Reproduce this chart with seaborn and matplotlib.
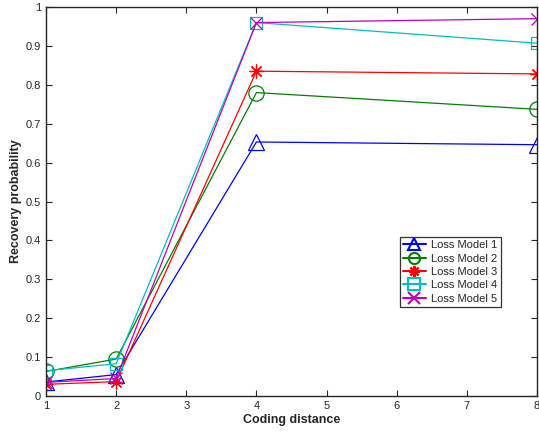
import pandas as pd
import seaborn as sns
import matplotlib.pyplot as plt
from matplotlib.lines import Line2D

# coding distances and recovery probabilities per loss model
distance = [1, 2, 4, 8]
model1 = [0.036, 0.055, 0.653, 0.646]
model2 = [0.063, 0.095, 0.780, 0.737]
model3 = [0.030, 0.037, 0.835, 0.828]
model4 = [0.065, 0.083, 0.960, 0.907]
model5 = [0.035, 0.045, 0.960, 0.970]
names = ["Loss Model 1", "Loss Model 2", "Loss Model 3", "Loss Model 4", "Loss Model 5"]

series = [model1, model2, model3, model4, model5]

colors = ["#0000ff", "#008000", "#ff0000", "#00bfbf", "#bf00bf"]
markers = ["^", "o", (8, 2, 0), "s", "x"]
sizes = [11, 11, 10, 9, 9]

sns.set_style("ticks")
plt.rcParams["font.family"] = ["Liberation Sans", "DejaVu Sans"]

fig = plt.figure(figsize=(5.39, 4.32), dpi=100)
ax = fig.add_axes([46 / 539, 36 / 432, 491 / 539, 389 / 432])

handles = []
for name, vals, c, m, s in zip(names, series, colors, markers, sizes):
    df = pd.DataFrame({"Coding distance": distance, "Recovery probability": vals})
    sns.lineplot(data=df, x="Coding distance", y="Recovery probability",
                 color=c, marker=m, markersize=s, markerfacecolor="none",
                 markeredgecolor=c, markeredgewidth=0.9, linewidth=0.9, ax=ax)
    handles.append(Line2D([], [], color=c, marker=m, mfc="none",
                          mec=c, mew=1.5, lw=1.5, markersize=8))

ax.set_xlim(1, 8)
ax.set_ylim(0, 1)
ax.set_xticks(range(1, 9))
ax.set_yticks([i / 10 for i in range(11)])
ax.set_yticklabels(["0"] + [f"{i / 10:g}" for i in range(1, 10)] + ["1"])
ax.tick_params(direction="in", top=True, right=True, labelsize=8, length=4, width=0.8)
for sp in ax.spines.values():
    sp.set_visible(True)
    sp.set_linewidth(1.0)
ax.set_xlabel("Coding distance", fontsize=9, fontweight="bold", labelpad=2)
ax.set_ylabel("Recovery probability", fontsize=9, fontweight="bold", labelpad=0)
ax.yaxis.set_label_coords(-24 / 491, 0.5)

leg = ax.legend(handles=handles, labels=names, loc="upper left",
                bbox_to_anchor=((400 - 46) / 491, (396 - 237) / 389),
                fontsize=8, frameon=True, fancybox=False, edgecolor="black",
                handlelength=2.0, handletextpad=0.5, labelspacing=0.3,
                borderpad=0.3, borderaxespad=0)
leg.get_frame().set_linewidth(0.9)

plt.savefig("out.png", dpi=100)
